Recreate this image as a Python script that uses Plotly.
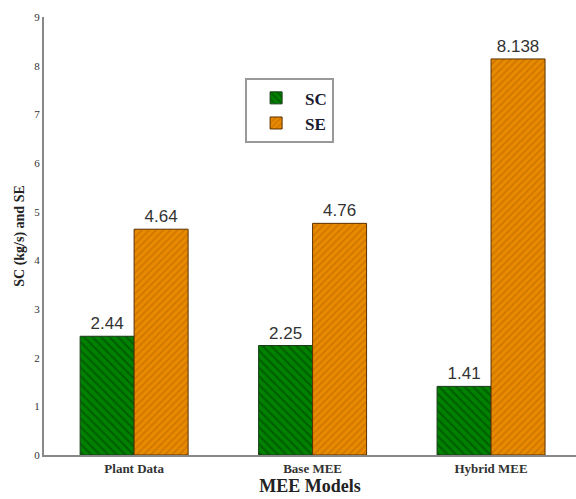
import plotly.graph_objects as go

categories = ["Plant Data", "Base MEE", "Hybrid MEE"]
sc_values = [2.44, 2.25, 1.41]
se_values = [4.64, 4.76, 8.138]
sc_labels = ["2.44", "2.25", "1.41"]
se_labels = ["4.64", "4.76", "8.138"]
y_ticks = [0, 1, 2, 3, 4, 5, 6, 7, 8, 9]

serif = "Liberation Serif, Times New Roman, serif"
sans = "Liberation Sans, Arial, sans-serif"

fig = go.Figure()
fig.add_trace(go.Bar(
    name="<b>SC</b>", x=categories, y=sc_values,
    text=sc_labels, textposition="outside", cliponaxis=False,
    textfont=dict(family=sans, size=17, color="#333333"),
    marker=dict(color="#008200", line=dict(color="#1a3a1a", width=1),
                pattern=dict(shape="\\", fgcolor="#003800", size=6, solidity=0.35)),
))
fig.add_trace(go.Bar(
    name="<b>SE</b>", x=categories, y=se_values,
    text=se_labels, textposition="outside", cliponaxis=False,
    textfont=dict(family=sans, size=17, color="#333333"),
    marker=dict(color="#E88A00", line=dict(color="#5a3000", width=1),
                pattern=dict(shape="/", fgcolor="#B05E00", size=5, solidity=0.3)),
))

fig.update_layout(
    width=576, height=499,
    margin=dict(l=44, r=0, t=17, b=44),
    paper_bgcolor="white", plot_bgcolor="white",
    barmode="group", bargap=0.395, bargroupgap=0,
    font=dict(family=serif, color="#222222"),
    showlegend=True,
    legend=dict(x=0.378, y=0.86, xanchor="left", yanchor="top",
                bordercolor="#999999", borderwidth=2, bgcolor="white",
                font=dict(family=serif, size=17, color="#1a1a2e"),
                itemwidth=48, tracegroupgap=0),
    xaxis=dict(range=[-0.505, 2.476], showline=True, linecolor="#888888", linewidth=2,
               ticks="", tickfont=dict(family=serif, size=13, color="#333333"),
               title=dict(text="<b>MEE Models</b>", font=dict(family=serif, size=18, color="#222222"),
                          standoff=5)),
    yaxis=dict(range=[0, 9], tickvals=y_ticks, showline=True, linecolor="#888888", linewidth=2,
               showgrid=False, zeroline=False, ticks="",
               tickfont=dict(family=serif, size=11, color="#333333"),
               title=dict(text="<b>SC (kg/s) and SE</b>", font=dict(family=serif, size=14, color="#222222"),
                          standoff=6)),
)
fig.update_xaxes(tickprefix="<b>", ticksuffix="</b>")
fig.update_yaxes(tickprefix="<b>", ticksuffix="</b>")

fig.write_html("out.html")
